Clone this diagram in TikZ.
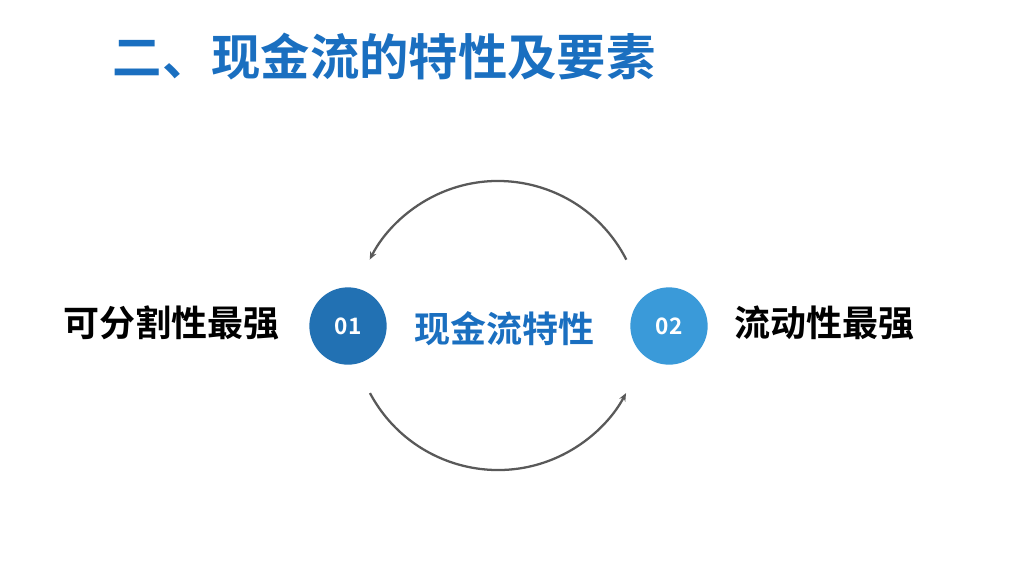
\documentclass[tikz,border=0pt]{standalone}
\usepackage{fontspec}
\newfontfamily\cjk{Noto Sans CJK SC Bold}
\usetikzlibrary{arrows.meta}
\definecolor{titleblue}{HTML}{1A6FC0}
\definecolor{darkblue}{HTML}{2271B3}
\definecolor{lightblue}{HTML}{3A9AD9}
\definecolor{arcgray}{HTML}{595959}

\begin{document}
\begin{tikzpicture}[x=0.75pt, y=-0.75pt,
				   every node/.style={font=\cjk},
				   num/.style={circle, minimum size=58pt, inner sep=0pt, text=white, font=\cjk\fontsize{17}{17}\selectfont},
				   side/.style={font=\cjk\fontsize{27}{27}\selectfont},
				   turn/.style={arcgray, line width=1.7pt, -{Stealth[length=6pt, width=5pt]}}]
\useasboundingbox (0,0) rectangle (1024,576);
\fill[white] (0,0) rectangle (1024,576);
\node[text=titleblue, anchor=west, font=\cjk\fontsize{37}{37}\selectfont] (title) at (108,57) {二、现金流的特性及要素};

\node[num, fill=darkblue] (one) at (348,326) {01};
\node[num, fill=lightblue] (two) at (669,326) {02};
\node[text=titleblue, font=\cjk\fontsize{27}{27}\selectfont] (core) at (504,329) {现金流特性};
\node[side, anchor=east] (left) at (284,323) {可分割性最强};
\node[side, anchor=west] (right) at (730,323) {流动性最强};

% arcs around the centre
\coordinate (mid) at (498,325);
\draw[turn] ([shift={(152:145)}]mid) arc[start angle=152, end angle=28, radius=145];
\draw[turn] ([shift={(-27:144)}]mid) arc[start angle=-27, end angle=-153, radius=144];
\end{tikzpicture}
\end{document}
